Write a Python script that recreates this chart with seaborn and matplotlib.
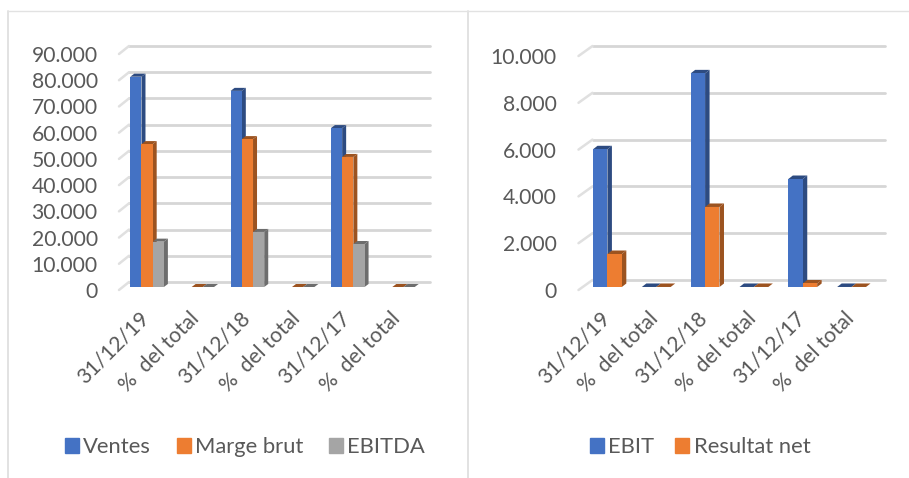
import matplotlib
matplotlib.use('Agg')
import matplotlib.pyplot as plt
import pandas as pd
import seaborn as sns
from matplotlib.colors import to_rgb
from matplotlib.lines import Line2D
from matplotlib.patches import Patch, Polygon
from matplotlib.transforms import Affine2D, IdentityTransform

W, H = 909, 478

x_labels = ['31/12/19', '%  del total', '31/12/18', '%  del total', '31/12/17', '%  del total']

ventes = [80200, 0, 74800, 0, 60600, 0]
marge_brut = [54500, 1, 56400, 1, 49600, 1]
ebitda = [17300, 1, 21000, 1, 16400, 1]
left_ticks = [0, 10000, 20000, 30000, 40000, 50000, 60000, 70000, 80000, 90000]
left_tick_labels = ['0', '10.000', '20.000', '30.000', '40.000', '50.000', '60.000', '70.000', '80.000', '90.000']

ebit = [5885, 1, 9130, 1, 4615, 1]
resultat_net = [1410, 1, 3420, 1, 150, 1]
right_ticks = [0, 2000, 4000, 6000, 8000, 10000]
right_tick_labels = ['0', '2.000', '4.000', '6.000', '8.000', '10.000']

BLUE, ORANGE, GREY = '#4472C4', '#ED7D31', '#A5A5A5'
TEXT = '#595959'
GRID = '#d6d6d6'
FRAME = '#e2e2e2'

sns.set_theme(style='white')
plt.rcParams['font.family'] = ['Lato', 'DejaVu Sans']


def px_axes(fig, left, right, top, bottom):
    return fig.add_axes([left / W, 1 - bottom / H, (right - left) / W, (bottom - top) / H])


def draw_chart(ax, series, colors, ticks, tick_labels, width, back, front, depth, ypad):
    rows = []
    for name, values in series.items():
        for i, v in enumerate(values):
            rows.append({'pos': i, 'serie': name, 'valor': v})
    df = pd.DataFrame(rows)
    sns.barplot(data=df, x='pos', y='valor', hue='serie', palette=colors, width=width,
                gap=0, saturation=1, errorbar=None, legend=False, ax=ax, zorder=3,
                linewidth=0, edgecolor='none')
    ax.set_xlim(-0.5, 5.5)
    ax.set_ylim(ticks[0], ticks[-1])
    ax.set_xlabel('')
    ax.set_ylabel('')
    for s in ax.spines.values():
        s.set_visible(False)

    # gridlines sit on the back wall, the slanted bit is the side wall
    for t in ticks:
        tr = ax.transData + Affine2D().translate(*back)
        ax.plot([-0.5, 5.5], [t, t], color=GRID, lw=2.0, transform=tr, clip_on=False, zorder=1)
        x0, y0 = ax.transData.transform((-0.5, t))
        ax.add_line(Line2D([x0 + back[0], x0 + back[0] + front[0]],
                           [y0 + back[1], y0 + back[1] + front[1]],
                           color='#e0e0e0', lw=1.8, transform=IdentityTransform(),
                           clip_on=False, zorder=1))

    # fake the excel 3d look from the bars seaborn drew
    for bar in list(ax.patches):
        if bar.get_height() == 0:
            continue
        x0, y0 = ax.transData.transform((bar.get_x(), bar.get_y()))
        x1, y1 = ax.transData.transform((bar.get_x() + bar.get_width(), bar.get_y() + bar.get_height()))
        dark = tuple(c * 0.66 for c in to_rgb(bar.get_facecolor()))
        dx, dy = depth
        side = [(x1, y0), (x1 + dx, y0 + dy), (x1 + dx, y1 + dy), (x1, y1)]
        lid = [(x0, y1), (x0 + dx, y1 + dy), (x1 + dx, y1 + dy), (x1, y1)]
        for pts in (side, lid):
            ax.add_patch(Polygon(pts, closed=True, facecolor=dark, edgecolor='none',
                                 transform=IdentityTransform(), clip_on=False, zorder=2))

    ax.set_yticks(ticks)
    ax.set_yticklabels(tick_labels)
    ax.set_xticks(range(6))
    ax.set_xticklabels(x_labels)
    ax.tick_params(axis='y', length=0, pad=ypad, labelsize=15.2, labelcolor=TEXT)
    ax.tick_params(axis='x', length=0, pad=0, labelsize=15.2, labelcolor=TEXT)
    for lab in ax.get_yticklabels():
        lab.set_transform(lab.get_transform() + Affine2D().translate(0, -3))
    for lab in ax.get_xticklabels():
        lab.set_rotation(45)
        lab.set_rotation_mode('anchor')
        lab.set_ha('right')
        lab.set_va('top')
        lab.set_transform(lab.get_transform() + Affine2D().translate(-8, -21))


fig = plt.figure(figsize=(W / 100, H / 100), dpi=100, facecolor='white')

ax1 = px_axes(fig, 122, 423, 51, 287)
draw_chart(ax1, {'Ventes': ventes, 'Marge brut': marge_brut, 'EBITDA': ebitda},
           [BLUE, ORANGE, GREY], left_ticks, left_tick_labels, 0.67,
           back=(7, 5), front=(-10, -8), depth=(4, 3), ypad=17.5)

ax2 = px_axes(fig, 583, 876, 53, 287)
draw_chart(ax2, {'EBIT': ebit, 'Resultat net': resultat_net},
           [BLUE, ORANGE], right_ticks, right_tick_labels, 0.59,
           back=(9.5, 7), front=(-14, -10), depth=(4.5, 3.5), ypad=19)

leg_opts = dict(loc='center left', frameon=False, fontsize=15.8, labelcolor=TEXT,
                handlelength=0.64, handleheight=0.64, handletextpad=0.2, borderpad=0,
                borderaxespad=0, ncol=3)
fig.legend(handles=[Patch(color=BLUE, label='Ventes'), Patch(color=ORANGE, label='Marge brut'),
                    Patch(color=GREY, label='EBITDA')],
           bbox_to_anchor=(65 / W, 1 - 447 / H), columnspacing=1.15, **leg_opts)
fig.legend(handles=[Patch(color=BLUE, label='EBIT'), Patch(color=ORANGE, label='Resultat net')],
           bbox_to_anchor=(590 / W, 1 - 447 / H), columnspacing=0.95, **leg_opts)

# panel borders
for x in (8, 468):
    fig.add_artist(Line2D([x / W, x / W], [0, 1 - 11 / H], color=FRAME, lw=1.4))
fig.add_artist(Line2D([8 / W, 1], [1 - 11 / H, 1 - 11 / H], color=FRAME, lw=1.0))

fig.savefig('out.png', dpi=100)
